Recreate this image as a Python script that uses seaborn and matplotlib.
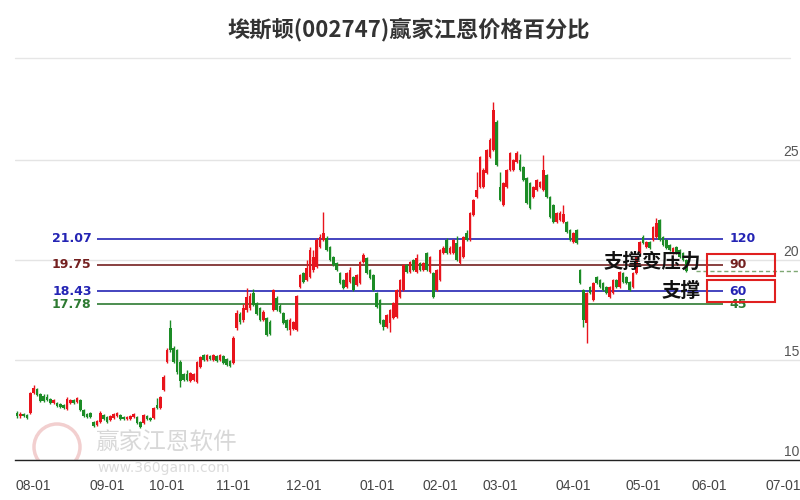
import matplotlib
matplotlib.use('Agg')
import numpy as np
import pandas as pd
import seaborn as sns
from matplotlib import pyplot as plt
from matplotlib.patches import Rectangle, Ellipse
import matplotlib.transforms as mtransforms

# ---- data ----
title = '埃斯顿(002747)赢家江恩价格百分比'

month_labels = ['08-01', '09-01', '10-01', '11-01', '12-01', '01-01',
                '02-01', '03-01', '04-01', '05-01', '06-01', '07-01']
month_pos = [5, 27, 45, 65, 86, 108, 127, 145, 167, 188, 208, 230]

opens = [12.35, 12.2, 12.3, 12.25, 12.35, 13.35, 13.55, 13.3, 13.2, 13.15,
         13.05, 12.85, 12.85, 12.8, 12.75, 12.55, 12.85, 13.0, 12.9, 13.0,
         12.5, 12.3, 12.35, 11.9, 11.75, 11.9, 12.25, 12.15, 12.0, 12.1,
         12.2, 12.25, 12.15, 12.05, 12.05, 12.15, 12.15, 11.9, 11.85, 12.2,
         12.1, 12.1, 12.75, 12.6, 13.5, 14.9, 16.6, 15.6, 15.5, 14.9,
         14.3, 14.3, 13.95, 14.0, 13.9, 14.65, 15.25, 15.0, 15.2, 15.0,
         15.2, 15.0, 15.2, 15.05, 14.95, 14.85, 16.6, 17.3, 17.0, 17.5,
         17.6, 18.35, 17.85, 17.6, 17.0, 17.1, 16.9, 17.5, 18.1, 17.7,
         17.35, 17.0, 16.5, 16.55, 16.5, 18.65, 19.35, 19.0, 19.15, 19.5,
         19.65, 20.65, 21.0, 21.1, 20.65, 20.15, 19.85, 19.35, 19.0, 18.65,
         18.9, 19.15, 18.75, 18.85, 19.9, 20.1, 19.5, 19.25, 18.35, 18.0,
         17.0, 16.65, 16.85, 17.1, 17.15, 18.15, 18.5, 19.75, 19.4, 20.0,
         19.4, 19.85, 19.5, 20.35, 19.4, 19.35, 18.5, 19.0, 20.35, 21.0,
         20.35, 20.35, 20.85, 19.85, 20.15, 21.35, 21.0, 22.25, 23.15, 23.65,
         23.65, 24.35, 25.15, 25.5, 26.9, 23.65, 22.75, 23.65, 24.5, 24.5,
         24.9, 25.0, 24.65, 24.1, 23.85, 23.15, 23.5, 23.65, 23.5, 24.25,
         23.15, 22.75, 21.9, 22.0, 21.9, 21.9, 21.5, 20.9, 21.5, 19.5,
         18.5, 16.85, 18.65, 18.0, 19.15, 19.0, 18.85, 18.65, 18.15, 18.35,
         19.0, 18.65, 19.35, 19.15, 18.9, 18.65, 19.35, 20.35, 21.15, 20.65,
         20.9, 21.0, 21.15, 22.0, 21.15, 21.0, 20.75, 20.35, 20.65, 20.5,
         20.35, 20.0]

highs = [12.45, 12.4, 12.35, 12.3, 13.4, 13.75, 13.6, 13.35, 13.3, 13.3,
         13.1, 13.05, 12.9, 12.85, 12.8, 13.15, 13.05, 13.05, 13.15, 13.05,
         12.55, 12.35, 12.4, 11.95, 12.0, 12.45, 12.3, 12.2, 12.25, 12.35,
         12.4, 12.3, 12.2, 12.2, 12.25, 12.35, 12.2, 11.95, 12.3, 12.25,
         12.15, 12.65, 13.1, 13.2, 14.25, 15.6, 17.0, 15.7, 15.55, 15.0,
         14.35, 14.5, 14.4, 14.35, 14.95, 15.2, 15.3, 15.3, 15.25, 15.3,
         15.25, 15.3, 15.25, 15.1, 15.0, 16.2, 17.5, 17.4, 17.8, 18.6,
         18.35, 18.55, 17.9, 17.65, 17.5, 17.15, 17.0, 18.55, 18.2, 17.8,
         17.4, 17.05, 17.1, 16.95, 18.25, 19.3, 19.4, 20.0, 20.65, 20.5,
         21.1, 21.3, 22.4, 21.2, 20.7, 20.2, 19.9, 19.4, 19.05, 19.4,
         19.65, 19.2, 19.3, 19.95, 20.35, 20.15, 19.55, 19.3, 18.4, 18.05,
         17.05, 17.3, 17.55, 17.9, 18.55, 19.05, 19.8, 19.8, 19.95, 20.05,
         20.3, 19.9, 19.9, 20.4, 20.2, 19.4, 19.55, 20.55, 20.7, 21.1,
         20.7, 21.05, 21.2, 20.7, 21.2, 21.5, 22.4, 23.05, 24.4, 25.2,
         24.6, 25.55, 26.1, 27.9, 27.0, 24.4, 23.9, 24.55, 25.4, 25.05,
         25.45, 25.3, 24.7, 24.15, 23.9, 23.7, 24.05, 23.95, 25.25, 24.3,
         23.2, 22.8, 22.4, 22.45, 22.75, 21.95, 21.55, 21.4, 21.55, 19.55,
         18.55, 18.4, 18.7, 18.9, 19.2, 19.05, 18.9, 18.7, 18.7, 19.05,
         19.05, 19.45, 19.4, 19.2, 18.95, 19.4, 20.2, 20.95, 21.25, 20.95,
         20.95, 21.7, 22.1, 22.05, 21.2, 21.05, 20.8, 20.65, 20.7, 20.55,
         20.4, 20.05]

lows = [12.1, 12.1, 12.15, 12.05, 12.3, 13.3, 13.2, 12.9, 12.9, 12.95,
        12.8, 12.8, 12.65, 12.6, 12.55, 12.5, 12.8, 12.8, 12.85, 12.45,
        12.15, 12.1, 12.1, 11.65, 11.7, 11.85, 12.0, 11.85, 11.95, 12.05,
        12.15, 12.0, 12.0, 12.0, 12.0, 12.1, 11.8, 11.6, 11.8, 12.0,
        11.95, 12.05, 12.55, 12.55, 13.45, 14.85, 15.4, 14.85, 14.3, 13.65,
        13.95, 13.95, 13.9, 13.95, 13.85, 14.6, 14.95, 14.95, 15.0, 14.95,
        14.9, 14.95, 14.8, 14.7, 14.65, 14.8, 16.5, 16.8, 16.9, 17.4,
        17.5, 17.7, 17.25, 16.95, 16.95, 16.2, 16.25, 17.45, 17.45, 17.35,
        16.8, 16.5, 16.25, 16.5, 16.45, 18.6, 18.85, 18.95, 19.1, 19.4,
        19.6, 20.6, 20.95, 20.45, 19.95, 19.7, 19.45, 18.8, 18.55, 18.6,
        18.85, 18.45, 18.7, 18.8, 19.85, 19.3, 19.05, 18.45, 17.6, 16.8,
        16.5, 16.6, 16.4, 17.05, 17.1, 18.1, 18.45, 19.35, 19.35, 19.45,
        19.35, 19.45, 19.45, 19.45, 19.35, 18.1, 18.45, 18.95, 20.3, 20.3,
        20.3, 20.3, 19.95, 19.8, 20.1, 20.95, 20.95, 22.2, 23.1, 23.6,
        23.6, 24.3, 25.1, 25.45, 24.7, 22.95, 22.7, 23.6, 24.45, 24.45,
        24.85, 24.45, 23.95, 22.8, 22.55, 23.1, 23.45, 23.6, 23.45, 23.1,
        22.1, 21.85, 21.85, 21.95, 21.85, 21.35, 20.95, 20.85, 20.8, 18.8,
        16.65, 15.85, 18.3, 17.95, 18.8, 18.6, 18.45, 18.3, 18.1, 18.3,
        18.6, 18.6, 18.85, 18.8, 18.45, 18.6, 19.3, 20.3, 20.8, 20.6,
        20.55, 20.95, 21.1, 20.95, 20.7, 20.55, 20.45, 20.3, 20.3, 20.1,
        19.95, 19.4]

closes = [12.2, 12.3, 12.2, 12.1, 13.35, 13.6, 13.25, 12.95, 12.95, 13.0,
          12.85, 13.0, 12.7, 12.65, 12.6, 13.05, 13.0, 12.85, 13.1, 12.5,
          12.2, 12.15, 12.15, 11.7, 11.95, 12.35, 12.05, 11.9, 12.2, 12.3,
          12.35, 12.05, 12.05, 12.15, 12.2, 12.3, 11.85, 11.65, 12.25, 12.05,
          12.0, 12.6, 12.6, 13.15, 14.15, 15.5, 15.5, 14.9, 14.4, 13.95,
          14.0, 14.0, 14.35, 14.3, 14.9, 15.15, 15.0, 15.25, 15.05, 15.25,
          14.95, 15.25, 14.85, 14.75, 14.7, 16.1, 17.35, 16.9, 17.6, 18.15,
          18.2, 17.75, 17.3, 17.0, 17.4, 16.25, 16.3, 18.5, 17.5, 17.4,
          16.85, 16.6, 17.0, 16.9, 18.2, 19.25, 18.9, 19.6, 20.5, 20.15,
          21.0, 21.15, 21.35, 20.5, 20.0, 19.75, 19.5, 18.85, 18.6, 19.35,
          19.5, 18.5, 19.25, 19.9, 20.25, 19.35, 19.1, 18.5, 17.65, 16.85,
          16.65, 17.25, 17.5, 17.85, 18.5, 19.0, 19.75, 19.4, 19.9, 19.5,
          20.1, 19.5, 19.85, 19.5, 20.15, 18.15, 19.5, 20.5, 20.6, 20.35,
          20.6, 21.0, 20.0, 20.65, 21.15, 21.0, 22.35, 23.0, 23.5, 25.15,
          24.5, 25.5, 26.0, 27.5, 24.75, 23.0, 23.85, 24.5, 25.35, 25.0,
          25.35, 24.5, 24.0, 22.85, 22.6, 23.65, 24.0, 23.9, 24.5, 23.15,
          22.15, 21.9, 22.35, 22.35, 22.3, 21.4, 21.0, 21.35, 20.85, 18.85,
          17.0, 18.35, 18.35, 18.85, 18.85, 18.65, 18.5, 18.35, 18.65, 19.0,
          18.65, 19.4, 18.9, 18.85, 18.5, 19.35, 20.15, 20.9, 20.85, 20.9,
          20.6, 21.65, 21.85, 21.0, 20.75, 20.6, 20.5, 20.6, 20.35, 20.15,
          20.0, 19.45]

level_prices = [21.07, 19.75, 18.43, 17.78]
level_names = ['120', '90', '60', '45']
level_colors = ['#2424b4', '#742020', '#2424b4', '#2e7a32']
boxed_levels = ['90', '60']
notes = ['支撑变压力', '支撑']
note_prices = [19.9, 18.45]
y_labels = [10, 15, 20, 25]

# ---- style ----
sns.set_theme(style='white')
plt.rcParams['font.family'] = ['Noto Sans CJK SC', 'DejaVu Sans']

RED = '#e8141c'
GREEN = '#1c8c26'

df = pd.DataFrame({'open': opens, 'high': highs, 'low': lows, 'close': closes})
df['day'] = np.arange(len(df))
df['color'] = np.where(df['close'] >= df['open'], RED, GREEN)

fig = plt.figure(figsize=(8, 5), dpi=100)
ax = fig.add_axes([15 / 800, 40 / 500, 785 / 800, 400 / 500])
ax.set_xlim(-0.6, 235.1)
ax.set_ylim(10, 30)

# grid + spines
ax.set_yticks(y_labels)
ax.set_yticklabels([])
ax.tick_params(axis='y', length=0)
ax.yaxis.grid(True, color='#e4e4e4', lw=1)
ax.set_axisbelow(True)
for s in ['left', 'right', 'top']:
    ax.spines[s].set_visible(False)
ax.spines['bottom'].set_color('#222222')
ax.spines['bottom'].set_linewidth(1)

ax.set_xticks(month_pos)
ax.set_xticklabels(month_labels, family=['Liberation Sans'], fontsize=10, color='#444444')
ax.tick_params(axis='x', direction='out', length=8, width=1, color='#333333', pad=6)

# watermark
ax.add_patch(Ellipse((57 / 800, 1 - 447 / 500), 46 / 800, 46 / 500, transform=fig.transFigure,
                     fill=False, edgecolor='#f2cfcf', lw=2.5, zorder=0.5))
ax.text(95 / 800, 1 - 443 / 500, '赢家江恩软件', transform=fig.transFigure, fontsize=17,
        color='#d8d8d8', va='center', ha='left', zorder=0.5)
ax.text(97 / 800, 1 - 468 / 500, 'www.360gann.com', transform=fig.transFigure, fontsize=10,
        family=['DejaVu Sans'], color='#dcdcdc', va='center', ha='left', zorder=0.5)

# candles
ax.vlines(df['day'], df['low'], df['high'], colors=df['color'], lw=1, zorder=3)
body_low = df[['open', 'close']].min(axis=1)
body_h = (df['close'] - df['open']).abs().clip(lower=0.06)
ax.bar(df['day'], body_h, bottom=body_low, width=0.8, color=df['color'], lw=0, zorder=3)

# gann levels
for p, name, c in zip(level_prices, level_names, level_colors):
    ax.hlines(p, 24, 212, colors=c, lw=1.2, zorder=2)
    ax.text(22.4, p, f'{p:.2f}', ha='right', va='center', fontsize=9, color=c,
            weight='bold', family=['DejaVu Sans'], zorder=4)
    ax.text(214, p, name, ha='left', va='center', fontsize=9, color=c,
            weight='bold', family=['DejaVu Sans'], zorder=4)

# boxes around the 90 / 60 labels
for name in boxed_levels:
    p = level_prices[level_names.index(name)]
    ax.add_patch(Rectangle((207.2, p - 0.55), 20.4, 1.1, fill=False,
                           edgecolor='#e02020', lw=1.5, zorder=5))

# last price dashed line
ax.hlines(df['close'].iloc[-1], 204, 235.1, colors='#7fa874', lw=1, linestyles=(0, (3, 2)), zorder=2)

# notes
for txt, p in zip(notes, note_prices):
    ax.text(205.3, p, txt, ha='right', va='center', fontsize=14, weight='bold',
            color='#111111', zorder=6)

# right side price labels
trans = mtransforms.blended_transform_factory(ax.transAxes, ax.transData)
for v in y_labels:
    ax.text(0.999, v + 0.4, str(v), transform=trans, ha='right', va='center',
            fontsize=10, color='#555555', family=['Liberation Sans'], zorder=4)

# title + separator
fig.text(0.511, 0.94, title, ha='center', va='center', fontsize=16, weight='bold', color='#333333')
fig.add_artist(plt.Line2D([15 / 800, 790 / 800], [1 - 58 / 500, 1 - 58 / 500],
                          transform=fig.transFigure, color='#e6e6e6', lw=1))

fig.savefig('out.png', dpi=100)
